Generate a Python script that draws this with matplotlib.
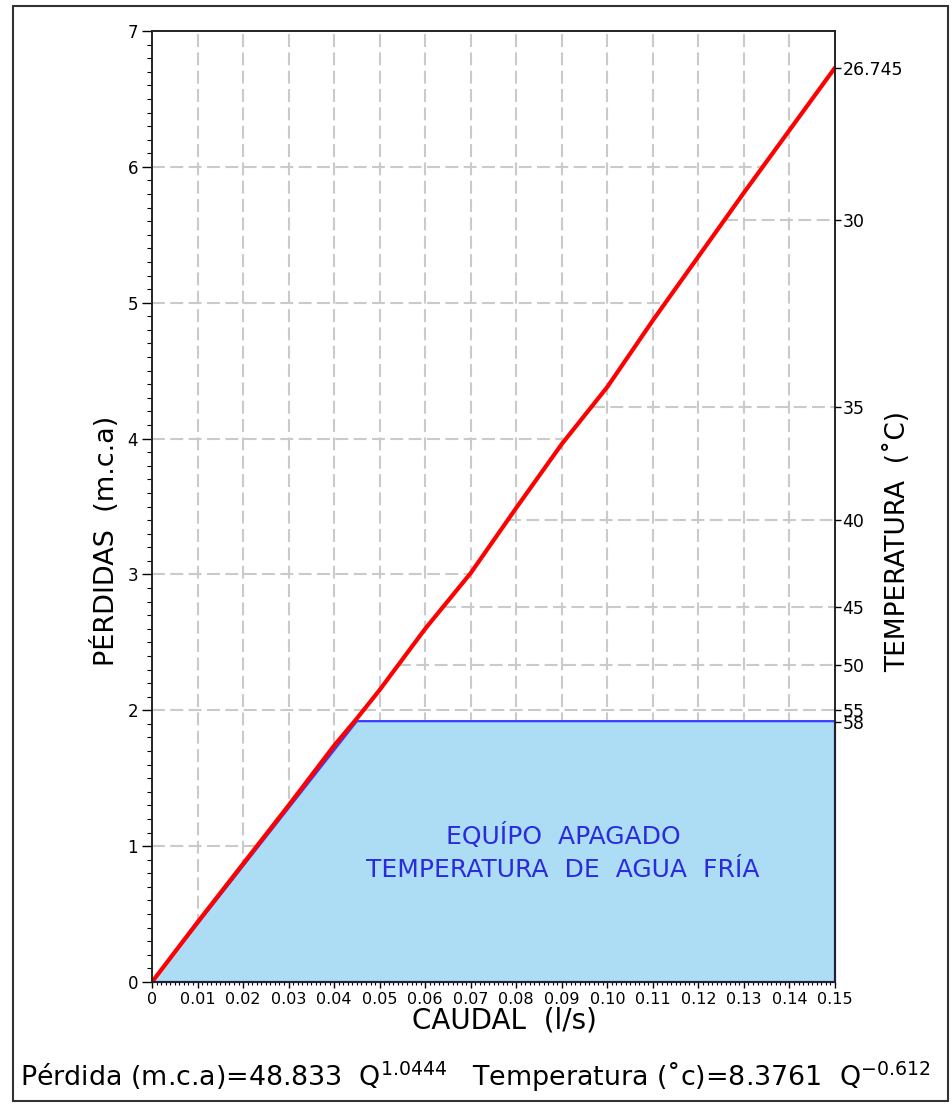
import numpy as np
import matplotlib
matplotlib.use('Agg')
import matplotlib.pyplot as plt
from matplotlib.patches import Rectangle, Polygon
from matplotlib.ticker import MultipleLocator, FixedLocator

# ---- data ----
caudal = [0.0, 0.01, 0.02, 0.03, 0.04, 0.045, 0.05, 0.06, 0.07, 0.08,
          0.09, 0.10, 0.11, 0.12, 0.13, 0.14, 0.15]
perdida = [0.0, 0.44, 0.87, 1.30, 1.74, 1.94, 2.15, 2.60, 3.01, 3.49,
           3.96, 4.38, 4.87, 5.34, 5.81, 6.27, 6.73]

fill_caudal = [0.0, 0.045, 0.15, 0.15]
fill_perdida = [0.0, 1.92, 1.92, 0.0]

x_ticks = [0.0, 0.01, 0.02, 0.03, 0.04, 0.05, 0.06, 0.07, 0.08, 0.09,
           0.10, 0.11, 0.12, 0.13, 0.14, 0.15]
x_labels = ['0', '0.01', '0.02', '0.03', '0.04', '0.05', '0.06', '0.07',
            '0.08', '0.09', '0.10', '0.11', '0.12', '0.13', '0.14', '0.15']
y_ticks = [0, 1, 2, 3, 4, 5, 6, 7]
p_grid = [1, 2, 3, 4, 5, 6]

temp_labels = ['26.745', '30', '35', '40', '45', '50', '55', '58']
temp_pos = [6.725, 5.61, 4.235, 3.40, 2.762, 2.333, 2.0, 1.916]

W, H = 952, 1108
fig = plt.figure(figsize=(W / 100, H / 100), dpi=100)
fig.patch.set_facecolor('white')

def fx(px):
    return px / W

def fy(py):
    return 1 - py / H

ax = fig.add_axes([fx(152), fy(982), fx(835) - fx(152), fy(31) - fy(982)])
ax.set_xlim(0, 0.15)
ax.set_ylim(0, 7)

grid_kw = dict(color='#cacaca', linewidth=1.5, linestyle=(0, (6.2, 2.6)), zorder=1)
# vertical grid
for q in x_ticks[1:-1]:
    ax.axvline(q, **grid_kw)
# horizontal perdida grid: from left axis to the curve
for p in p_grid:
    ax.hlines(p, 0, np.interp(p, perdida, caudal), **grid_kw)
# temperature grid: from curve to right axis
for tp in temp_pos[1:]:
    ax.hlines(tp, np.interp(tp, perdida, caudal), 0.15, **grid_kw)

# blue region
poly = Polygon(list(zip(fill_caudal, fill_perdida)), closed=True,
               facecolor='#addcf5', edgecolor='#3a3aff', linewidth=1.6,
               zorder=3, clip_on=False)
ax.add_patch(poly)

# red curve
ax.plot(caudal, perdida, color='#ff0000', linewidth=3.0, zorder=4,
        solid_capstyle='round', solid_joinstyle='round')

ax.text(0.0903, 1.075, 'EQUÍPO  APAGADO', color='#2b2bdd', fontsize=18,
        ha='center', va='center', zorder=5)
ax.text(0.0903, 0.824, 'TEMPERATURA  DE  AGUA  FRÍA', color='#2b2bdd', fontsize=18,
        ha='center', va='center', zorder=5)

for s in ax.spines.values():
    s.set_linewidth(1.4)
    s.set_color('#222222')
    s.set_zorder(6)

# x ticks
ax.xaxis.set_major_locator(FixedLocator(x_ticks))
ax.set_xticklabels(x_labels, fontsize=11.5)
ax.xaxis.set_minor_locator(MultipleLocator(0.001))
ax.tick_params(axis='x', which='major', direction='out', length=4, width=1, pad=3)
ax.tick_params(axis='x', which='minor', direction='out', length=2, width=0.8)

# y ticks
ax.yaxis.set_major_locator(FixedLocator(y_ticks))
ax.set_yticklabels([str(v) for v in y_ticks], fontsize=12)
ax.yaxis.set_minor_locator(MultipleLocator(0.1))
ax.tick_params(axis='y', which='major', direction='out', length=7, width=1, pad=3)
ax.tick_params(axis='y', which='minor', direction='out', length=3.5, width=0.8)

# right axis: temperature
ax2 = ax.twinx()
ax2.set_ylim(0, 7)
ax2.yaxis.set_major_locator(FixedLocator(temp_pos))
ax2.set_yticklabels(temp_labels, fontsize=12.5)
ax2.tick_params(axis='y', which='major', direction='out', length=4.5, width=1, pad=1)
for s in ax2.spines.values():
    s.set_visible(False)

# axis titles
fig.text(fx(106), fy(541), 'PÉRDIDAS  (m.c.a)', rotation=90, fontsize=19.5,
         ha='center', va='center')
fig.text(fx(898), fy(541), 'TEMPERATURA  (˚C)', rotation=90, fontsize=19,
         ha='center', va='center')
fig.text(fx(504), fy(1021), 'CAUDAL  (l/s)', fontsize=20, ha='center', va='center')

fig.text(fx(20), fy(1077),
         r'Pérdida (m.c.a)=48.833  Q$^{1.0444}$   Temperatura (˚c)=8.3761  Q$^{-0.612}$',
         fontsize=19.4, ha='left', va='center')

# outer frame
fig.patches.append(Rectangle((fx(13), fy(1101)), fx(948) - fx(13), fy(6) - fy(1101),
                             transform=fig.transFigure, fill=False,
                             edgecolor='#333333', linewidth=1.5))

fig.savefig('out.png', dpi=100)
